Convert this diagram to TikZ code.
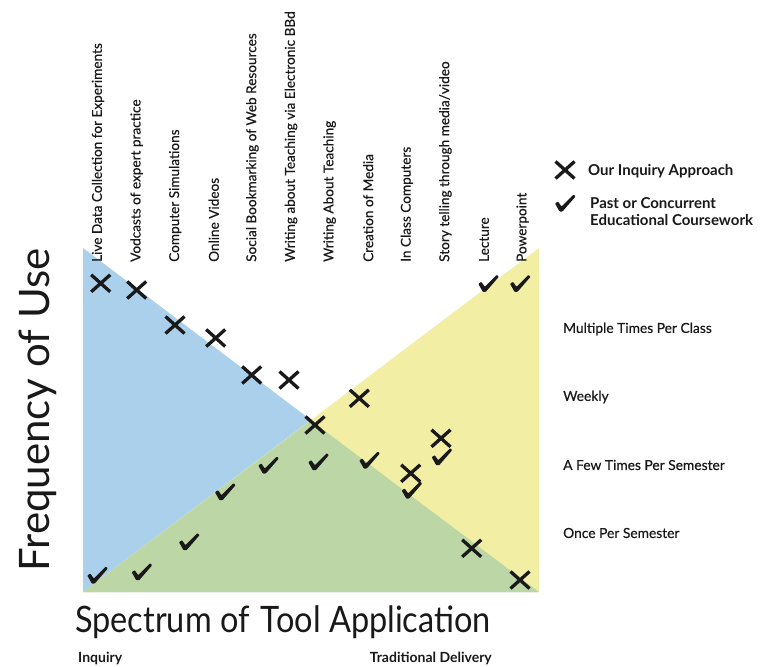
\documentclass[tikz,border=0pt]{standalone}
\usepackage{fontspec}
\setmainfont{Lato}
\newfontfamily\medfont[FakeBold=0.45]{Lato}
\definecolor{cblue}{RGB}{170,208,236}
\definecolor{cyellow}{RGB}{242,238,164}
\definecolor{cgreen}{RGB}{188,214,166}
\definecolor{ink}{RGB}{25,25,25}
\begin{document}
\begin{tikzpicture}[x=1pt,y=-1pt]
\tikzset{
  col/.style={rotate=90, anchor=west, inner sep=0pt, text=ink,
    font=\medfont\fontsize{13.6}{15}\selectfont},
  freq/.style={anchor=west, inner sep=0pt, text=ink,
    font=\medfont\fontsize{13.8}{16}\selectfont},
  legtxt/.style={anchor=west, inner sep=0pt, text=ink, align=left,
    font=\fontsize{15}{17}\selectfont\bfseries},
  bigtitle/.style={inner sep=0pt, text=ink},
  endlbl/.style={inner sep=0pt, text=ink, font=\fontsize{14}{16}\selectfont\bfseries},
  xm/.pic={\draw[ink, line width=3.3pt] (-9.5,-8.5)--(9.5,8.5) (-9.5,8.5)--(9.5,-8.5);},
  ck/.pic={\fill[ink, rounded corners=0.7pt] (-10,0.5) -- (-7,-1.5) -- (-3.5,3.5)
      -- (8.5,-8.5) -- (10.5,-6.5) -- (-2.5,8.5) -- (-5.5,8.5) -- cycle;}
}
\fill[white] (0,0) rectangle (775,666);
\path[use as bounding box] (0,0) rectangle (775,666);

% coloured triangles
\fill[cblue] (83,248) -- (83,592) -- (539,592) -- cycle;
\fill[cyellow] (539,248) -- (539,592) -- (83,592) -- cycle;
\fill[cgreen] (83,592) -- (539,592) -- (311,420.5) -- cycle;

% column labels
\node[col] (l1) at (98,262) {Live Data Collection for Experiments};
\node[col] (l2) at (136.6,262) {Vodcasts of expert practice};
\node[col] (l3) at (175.2,262) {Computer Simulations};
\node[col] (l4) at (213.8,262) {Online Videos};
\node[col] (l5) at (252.4,262) {Social Bookmarking of Web Resources};
\node[col] (l6) at (291,262) {Writing about Teaching via Electronic BBd};
\node[col] (l7) at (329.6,262) {Writing About Teaching};
\node[col] (l8) at (368.2,262) {Creation of Media};
\node[col] (l9) at (406.8,262) {In Class Computers};
\node[col] (l10) at (445.4,262) {Story telling through media/video};
\node[col] (l11) at (484,262) {Lecture};
\node[col] (l12) at (522.6,262) {Powerpoint};

% X marks (our inquiry approach)
\pic (x1) at (100.7,283.3) {xm};
\pic (x2) at (136.7,290) {xm};
\pic (x3) at (175,325) {xm};
\pic (x4) at (215.7,338) {xm};
\pic (x5) at (251.7,375) {xm};
\pic (x6) at (289,380) {xm};
\pic (x7) at (315,425) {xm};
\pic (x8) at (359.3,398.3) {xm};
\pic (x9) at (410.7,473.3) {xm};
\pic (x10) at (441,438.3) {xm};
\pic (x11) at (471.7,548.3) {xm};
\pic (x12) at (520,580) {xm};

% check marks (past or concurrent coursework)
\pic (c1) at (97.3,575) {ck};
\pic (c2) at (141.7,571.7) {ck};
\pic (c3) at (189,541.7) {ck};
\pic (c4) at (225,491.7) {ck};
\pic (c5) at (268.3,465) {ck};
\pic (c6) at (318.3,461.7) {ck};
\pic (c7) at (369.3,460) {ck};
\pic (c8) at (411.7,490) {ck};
\pic (c9) at (441.7,456.7) {ck};
\pic (c10) at (488.3,283.3) {ck};
\pic (c11) at (520,283.3) {ck};

% legend
\pic (lx) at (565,170) {xm};
\pic (lc) at (565,203) {ck};
\node[legtxt] (lt1) at (588,171) {Our Inquiry Approach};
\node[legtxt] (lt2) at (590,212) {Past or Concurrent\\Educational Coursework};

% frequency labels
\node[freq] (f1) at (563,329) {Multiple Times Per Class};
\node[freq] (f2) at (563,397) {Weekly};
\node[freq] (f3) at (563,465) {A Few Times Per Semester};
\node[freq] (f4) at (563,533) {Once Per Semester};

% axis titles
\node[bigtitle, rotate=90, font=\fontsize{42}{44}\selectfont] (ytitle) at (38,410) {Frequency of Use};
\node[bigtitle, anchor=base west, font=\fontsize{32.5}{36}\selectfont] (xtitle) at (75,632) {\scalebox{1}[1.12]{Spectrum of\hspace{0.35em}Tool Application}};
\node[endlbl, anchor=west] (inq) at (78,658) {Inquiry};
\node[endlbl, anchor=east] (trad) at (492,658) {Traditional Delivery};
\end{tikzpicture}
\end{document}
